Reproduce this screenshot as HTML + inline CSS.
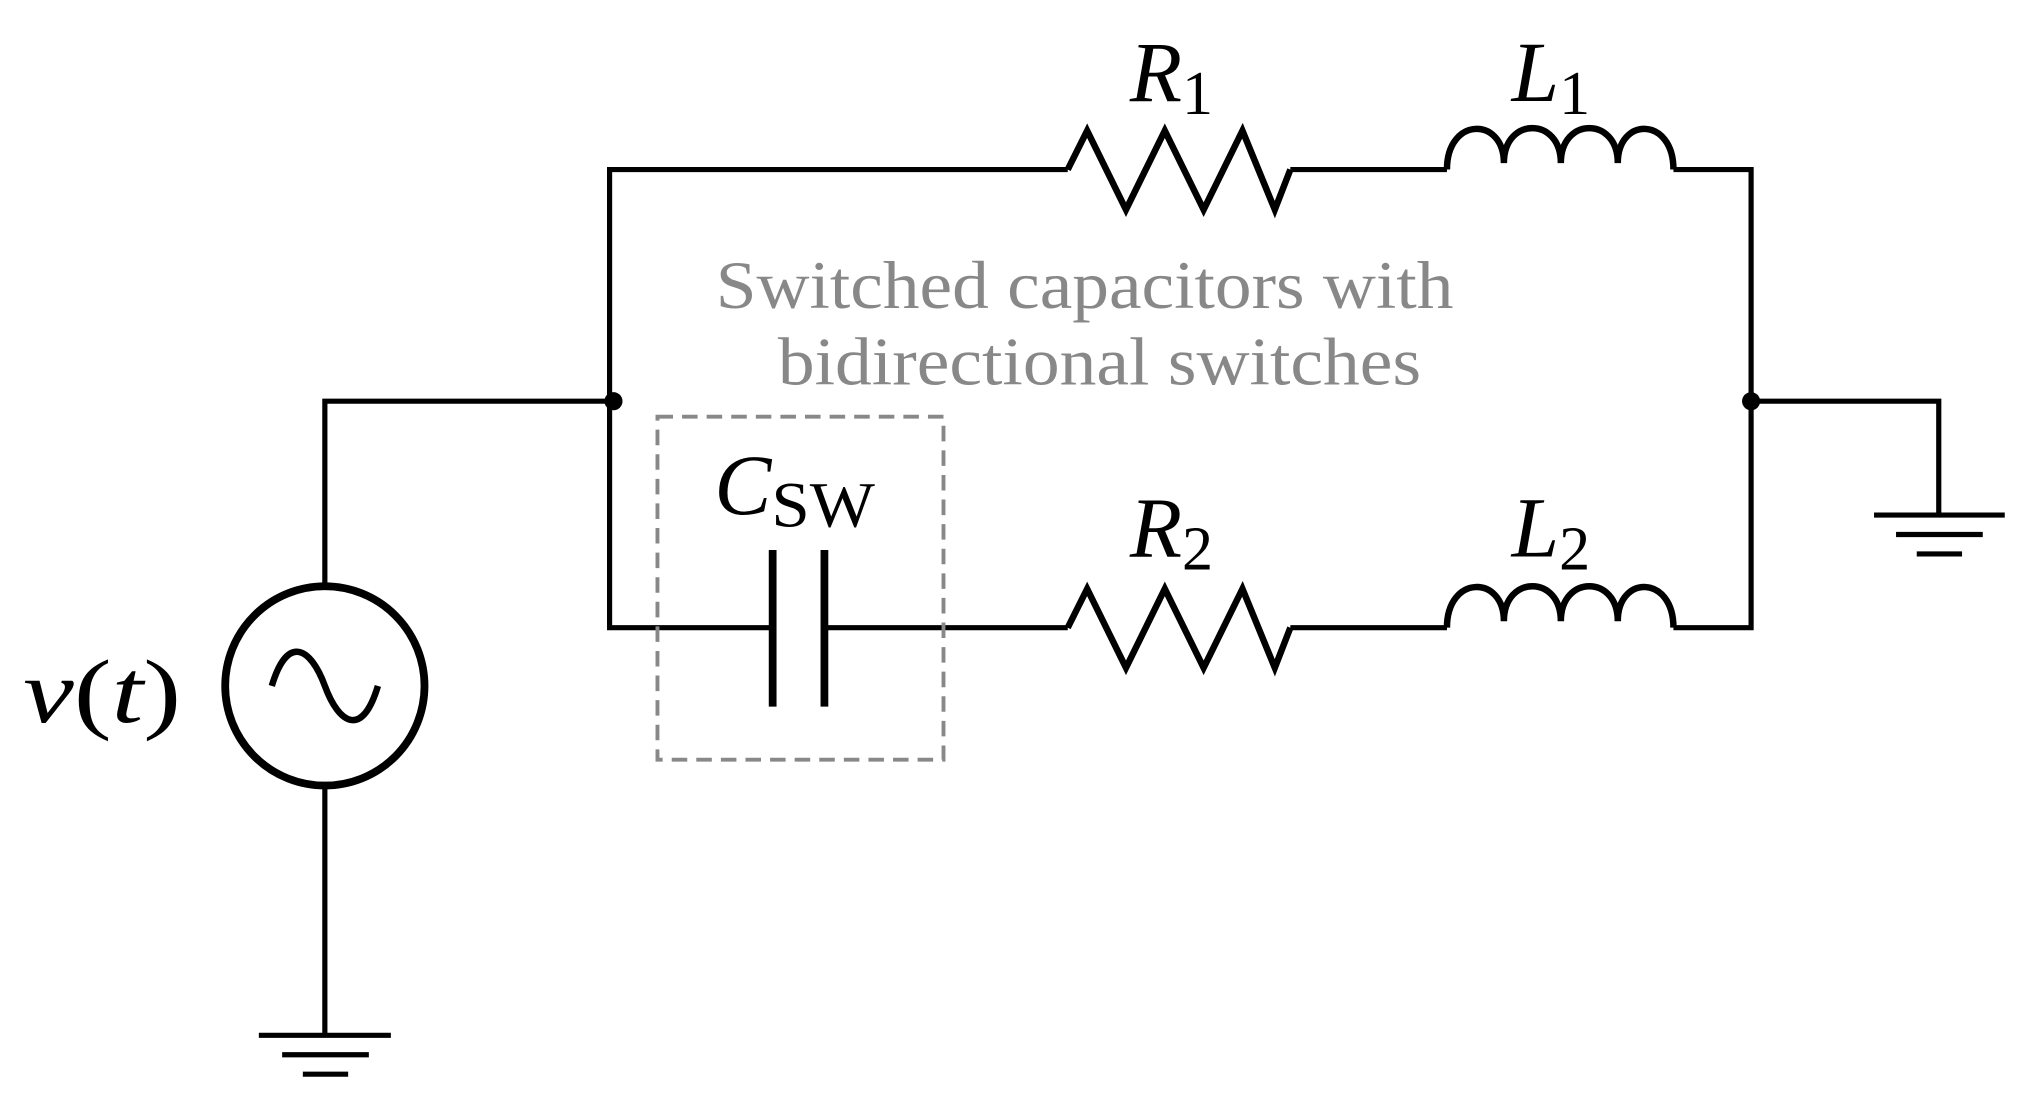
<!DOCTYPE html>
<html><head><style>html,body{margin:0;padding:0;background:#fff}svg{display:block}</style></head>
<body>
<svg width="2019" height="1106" viewBox="0 0 1560 854.6" preserveAspectRatio="none" xmlns="http://www.w3.org/2000/svg">
<g fill="none" stroke="#000" stroke-width="4" stroke-linejoin="miter">
<polyline points="825,131 471,131 471,485 595,485"/>
<polyline points="997,131 1118,131"/>
<polyline points="1293,131 1353,131 1353,485 1293,485"/>
<polyline points="637,485 825,485"/>
<polyline points="997,485 1118,485"/>
<polyline points="825,131 840,101 870,162 900,101 930,162 960,101 985,162 997,131" stroke-width="5"/>
<polyline points="825,485 840,455 870,516 900,455 930,516 960,455 985,516 997,485" stroke-width="5"/>
<path d="M1118,131 C1118,90 1162,90 1162,126 C1162,90 1206,90 1206,126 C1206,90 1250,90 1250,126 C1250,90 1293,90 1293,131" stroke-width="5"/>
<path d="M1118,485 C1118,444 1162,444 1162,480 C1162,444 1206,444 1206,480 C1206,444 1250,444 1250,480 C1250,444 1293,444 1293,485" stroke-width="5"/>
<line x1="597" y1="425" x2="597" y2="546" stroke-width="6"/>
<line x1="637" y1="425" x2="637" y2="546" stroke-width="6"/>
<polyline points="474,310 251,310 251,452"/>
<line x1="251" y1="608" x2="251" y2="800"/>
<circle cx="251" cy="530" r="77" stroke-width="6"/>
<path d="M210,530 C222,490 240,500 251,530 C262,560 280,570 292,530" stroke-width="5"/>
<line x1="200" y1="800" x2="302" y2="800"/>
<line x1="218" y1="815" x2="285" y2="815"/>
<line x1="234" y1="830" x2="269" y2="830"/>
<polyline points="1353,310 1498,310 1498,398"/>
<line x1="1448" y1="398" x2="1549" y2="398"/>
<line x1="1465" y1="413" x2="1532" y2="413"/>
<line x1="1481" y1="428" x2="1516" y2="428"/>
<rect x="508" y="322" width="221" height="265" stroke="#888" stroke-width="3" stroke-dasharray="12,7"/>
</g>
<circle cx="474" cy="310" r="7" fill="#000"/>
<circle cx="1353" cy="310" r="7" fill="#000"/>
<g font-family="Liberation Serif, serif" fill="#000">
<text x="873" y="78" font-size="66" font-style="italic">R<tspan font-size="48" font-style="normal" dy="10">1</tspan></text>
<text x="1168" y="78" font-size="66" font-style="italic">L<tspan font-size="48" font-style="normal" dy="10">1</tspan></text>
<text x="873" y="430" font-size="66" font-style="italic">R<tspan font-size="48" font-style="normal" dy="10">2</tspan></text>
<text x="1168" y="430" font-size="66" font-style="italic">L<tspan font-size="48" font-style="normal" dy="10">2</tspan></text>
<text x="552" y="397" font-size="66" font-style="italic">C<tspan font-size="50" font-style="normal" dy="10" textLength="80" lengthAdjust="spacingAndGlyphs">SW</tspan></text>
<text x="18" y="558" font-size="70" font-style="italic" textLength="122" lengthAdjust="spacingAndGlyphs">v<tspan font-style="normal">(</tspan>t<tspan font-style="normal">)</tspan></text>
<text x="553" y="238" font-size="52" fill="#888" textLength="570" lengthAdjust="spacingAndGlyphs">Switched capacitors with</text>
<text x="601" y="297" font-size="52" fill="#888" textLength="497" lengthAdjust="spacingAndGlyphs">bidirectional switches</text>
</g>
</svg>
</body></html>
